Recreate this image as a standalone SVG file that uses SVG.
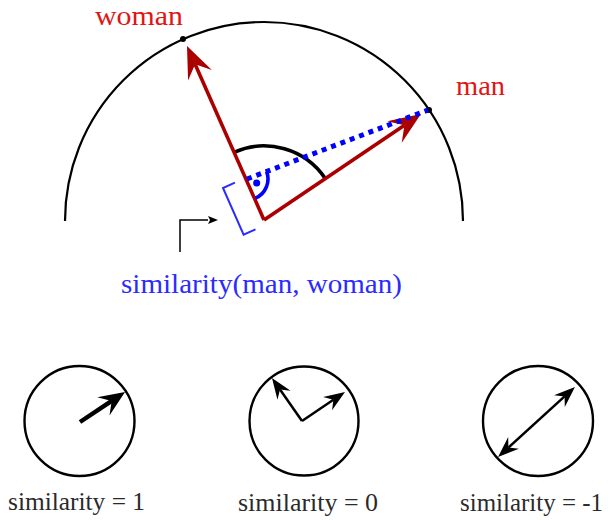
<svg xmlns="http://www.w3.org/2000/svg" width="610" height="520" viewBox="0 0 610 520">
<defs>
<style>
.red{stroke:#aa0000;stroke-width:3.6;fill:none}
.blk{stroke:#000;fill:none}
.lblR{font-family:"Liberation Serif",serif;font-size:28px;fill:#e01515}
.lblB{font-family:"Liberation Serif",serif;font-size:28px;fill:#2b2bff}
.lblK{font-family:"Liberation Serif",serif;font-size:26px;fill:#2a2a2a}
</style>
<marker id="headR" markerUnits="userSpaceOnUse" refX="0" refY="0" markerWidth="40" markerHeight="30" orient="auto" overflow="visible">
<path d="M-12,-13 L20,0 L-12,13 L0,0 Z" fill="#aa0000"/>
</marker>
<marker id="headK" markerUnits="userSpaceOnUse" refX="0" refY="0" markerWidth="30" markerHeight="24" orient="auto" overflow="visible">
<path d="M-10,-11 L16,0 L-10,11 L0,0 Z" fill="#000"/>
</marker>
<marker id="headS" markerUnits="userSpaceOnUse" refX="0" refY="0" markerWidth="24" markerHeight="18" orient="auto-start-reverse" overflow="visible">
<path d="M-7,-8 L14,0 L-7,8 L0,0 Z" fill="#000"/>
</marker>
<marker id="headT" markerUnits="userSpaceOnUse" refX="0" refY="0" markerWidth="12" markerHeight="10" orient="auto" overflow="visible">
<path d="M0,-4 L10,0 L0,4 L2,0 Z" fill="#000"/>
</marker>
</defs>

<g id="unit-circle">
<path class="blk" stroke-width="2.2" d="M65,221 A199,199 0 0 1 463,221"/>
<circle cx="183" cy="39" r="3" fill="#000"/>
<circle cx="429" cy="110" r="3" fill="#000"/>
</g>

<g id="angle-mark">
<path class="blk" stroke-width="3.6" d="M233.9,152.3 A74,74 0 0 1 325.3,178.6"/>
</g>

<g id="connectors">
<line id="woman-vector" class="red" x1="264" y1="220" x2="195.1" y2="64.3" marker-end="url(#headR)"/>
<line id="man-vector" class="red" x1="264" y1="220" x2="404.4" y2="125.2" marker-end="url(#headR)"/>
<line id="projection" x1="247" y1="179" x2="428" y2="110" stroke="#0000ff" stroke-width="5" stroke-dasharray="5 5"/>
<path id="right-angle" d="M266.6,171.5 A21,21 0 0 1 255.5,198.2" fill="none" stroke="#0000ff" stroke-width="3.6"/>
<circle cx="256.7" cy="183" r="3.5" fill="#0000ff"/>
<polyline id="bracket" points="234.9,182.7 223,188 243.6,234.6 255.5,229.3" fill="none" stroke="#2b2bff" stroke-width="2"/>
<polyline id="pointer" points="180,252 180,220 208,220" fill="none" stroke="#000" stroke-width="1.5" marker-end="url(#headT)"/>
</g>

<g id="label-woman"><text class="lblR" x="95" y="25" textLength="88" lengthAdjust="spacingAndGlyphs">woman</text></g>
<g id="label-man"><text class="lblR" x="456" y="95" textLength="49" lengthAdjust="spacingAndGlyphs">man</text></g>
<g id="label-similarity"><text class="lblB" x="121" y="293" textLength="281" lengthAdjust="spacingAndGlyphs">similarity(man, woman)</text></g>

<g id="example-1">
<circle cx="79.5" cy="421" r="55" class="blk" stroke-width="2.4"/>
<line x1="80" y1="422" x2="111.7" y2="400.9" stroke="#000" stroke-width="4.5" marker-end="url(#headK)"/>
<text class="lblK" x="8" y="510" textLength="137" lengthAdjust="spacingAndGlyphs">similarity = 1</text>
</g>

<g id="example-0">
<circle cx="304" cy="421" r="54.5" class="blk" stroke-width="2.4"/>
<line x1="302" y1="421" x2="280" y2="389.5" stroke="#000" stroke-width="2.5" marker-end="url(#headS)"/>
<line x1="302" y1="421" x2="333.4" y2="399.8" stroke="#000" stroke-width="2.5" marker-end="url(#headS)"/>
<text class="lblK" x="238" y="511" textLength="140" lengthAdjust="spacingAndGlyphs">similarity = 0</text>
</g>

<g id="example-neg1">
<circle cx="538" cy="421" r="55" class="blk" stroke-width="2.4"/>
<line x1="508.4" y1="447.6" x2="564.6" y2="396.4" stroke="#000" stroke-width="2.5" marker-start="url(#headS)" marker-end="url(#headS)"/>
<text class="lblK" x="460" y="511" textLength="143" lengthAdjust="spacingAndGlyphs">similarity = -1</text>
</g>
</svg>
